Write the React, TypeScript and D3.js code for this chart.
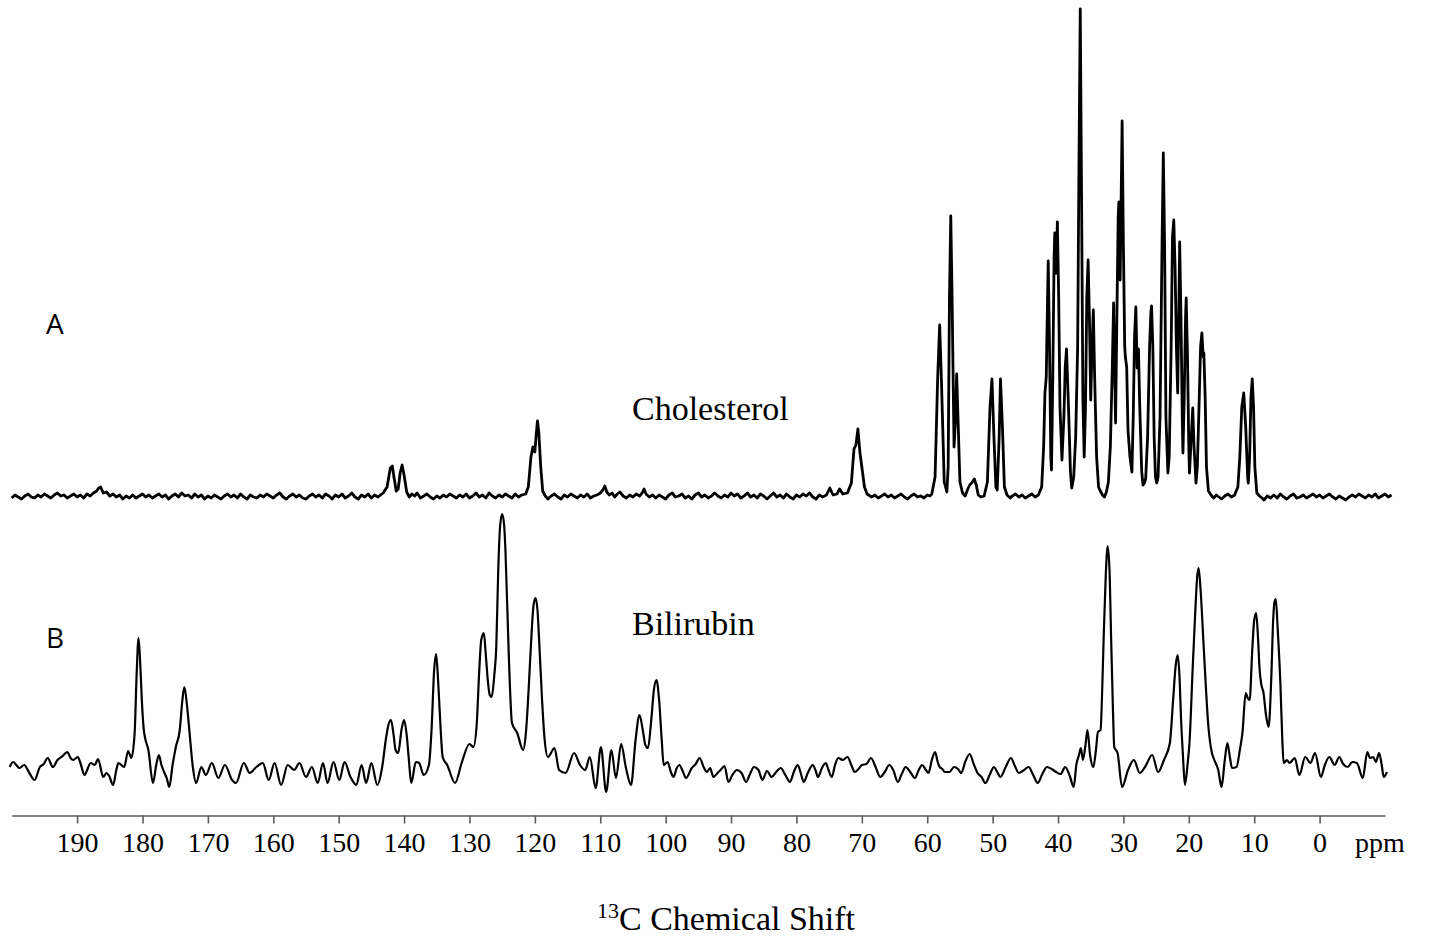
import React, { useEffect, useRef } from 'react';
import * as d3 from 'd3';

// [ppm, intensity a.u.], ordered from high ppm to low ppm
const cholesterol: [number, number][] = [
  [200, -1], [199.5, 2], [199, 0], [198.5, -2], [198, 1], [197.5, 3], [197, 0], [196.5, -1], [196, 2], [195.5, 0],
  [195, 3], [194.5, 1], [194, -1], [193.5, 2], [193, 4], [192.5, 1], [192, 2], [191.5, -1], [191, 1], [190.5, 3],
  [190, 0], [189.5, 2], [189, -1], [188.5, 3], [188, 1], [187.5, 4], [187, 6], [186.7, 9], [186.4, 10], [186, 4],
  [185.5, 5], [185, 1], [184.5, 3], [184, 0], [183.5, 2], [183, -2], [182.5, 1], [182, -1], [181.5, 2], [181, -1],
  [180.5, 1], [180, 3], [179.5, 0], [179, 2], [178.5, -1], [178, 1], [177.5, 3], [177, 0], [176.5, 2], [176, -2],
  [175.5, 1], [175, 3], [174.5, 0], [174, 4], [173.5, 1], [173, 2], [172.5, -1], [172, 3], [171.5, 0], [171, 2],
  [170.5, -2], [170, 1], [169.5, -1], [169, 2], [168.5, 0], [168, -2], [167.5, 1], [167, 3], [166.5, 0], [166, 2],
  [165.5, -1], [165, 3], [164.5, 0], [164, -2], [163.5, 2], [163, 0], [162.5, -1], [162, 2], [161.5, 0], [161, 3],
  [160.5, 1], [160, -1], [159.5, 2], [159, 4], [158.5, 0], [158, -2], [157.5, 1], [157, 3], [156.5, 0], [156, 2],
  [155.5, -1], [155, -2], [154.5, 1], [154, 3], [153.5, 0], [153, 2], [152.5, -1], [152, 3], [151.5, 1], [151, -2],
  [150.5, 2], [150, 0], [149.5, 3], [149, -1], [148.5, 1], [148, 4], [147.5, 0], [147, -2], [146.5, 2], [146, 0],
  [145.5, 3], [145, -1], [144.5, 2], [144, 0], [143.6, 2], [143.2, 4], [142.6, 10], [142.1, 29], [141.8, 31], [141.5, 18],
  [141.2, 6], [140.9, 8], [140.6, 24], [140.3, 32], [140.0, 22], [139.6, 5], [139.2, 0], [138.8, 3], [138.4, 1], [138, 4],
  [137.5, -1], [137, 1], [136.5, 3], [136, 0], [135.5, -2], [135, 1], [134.5, -1], [134, 2], [133.5, 0], [133, 3],
  [132.5, 1], [132, -1], [131.5, 2], [131, 0], [130.5, 3], [130, -1], [129.5, 1], [129, 4], [128.5, 0], [128, 2],
  [127.5, -1], [127, 4], [126.5, 1], [126, -1], [125.5, 2], [125, 0], [124.5, 3], [124, 1], [123.5, -1], [123, 3],
  [122.5, 0], [122, 2], [121.4, 3], [121.0, 10], [120.6, 40], [120.3, 50], [120.0, 45], [119.8, 62], [119.6, 76], [119.4, 65],
  [119.1, 30], [118.8, 6], [118.4, 1], [118, -2], [117.5, 1], [117, 3], [116.5, 0], [116, -2], [115.5, 2], [115, 0],
  [114.5, 3], [114, 1], [113.5, -1], [113, 2], [112.5, 0], [112, 3], [111.5, -1], [111, 1], [110.5, 2], [110, 4],
  [109.6, 7], [109.3, 11], [109.0, 5], [108.6, 2], [108.2, 4], [107.8, 0], [107.4, 3], [107, 5], [106.5, 1], [106, -1],
  [105.5, 2], [105, 0], [104.5, 3], [104, 1], [103.6, 4], [103.3, 8], [103.0, 3], [102.5, 0], [102, 2], [101.5, -1],
  [101, 2], [100.5, 0], [100, -2], [99.5, 2], [99, 4], [98.5, 0], [98, 1], [97.5, 3], [97, -1], [96.5, 1],
  [96, -2], [95.5, 2], [95, 4], [94.5, 0], [94, 2], [93.5, -1], [93, 1], [92.5, 4], [92, 1], [91.5, -1],
  [91, 2], [90.5, 0], [90, 4], [89.5, 1], [89, 3], [88.5, -1], [88, 1], [87.5, 4], [87, 0], [86.5, 2],
  [86, -1], [85.5, 3], [85, 1], [84.5, -2], [84, 1], [83.5, 4], [83, 0], [82.5, 2], [82, -1], [81.5, 3],
  [81, 0], [80.5, -2], [80, 2], [79.5, 0], [79, 3], [78.5, 1], [78, 4], [77.5, 0], [77, -2], [76.5, 2],
  [76, 0], [75.4, 2], [74.9, 9], [74.4, 2], [73.8, 3], [73.4, 8], [72.9, 3], [72.2, 4], [71.6, 14], [71.2, 48],
  [70.9, 52], [70.6, 68], [70.3, 45], [70.0, 30], [69.6, 10], [69.2, 3], [68.5, 0], [68, 2], [67.5, -1], [67, 1],
  [66.5, 3], [66, 0], [65.5, 2], [65, -1], [64.5, 1], [64, 3], [63.5, 0], [63, -2], [62.5, 1], [62, 3],
  [61.5, 0], [61, 1], [60.5, -1], [60, 2], [59.6, 1], [59.3, 3], [58.8, 20], [58.4, 120], [58.1, 172], [57.8, 110],
  [57.4, 15], [57.0, 5], [56.8, 30], [56.6, 200], [56.4, 281], [56.2, 200], [55.9, 50], [55.7, 75], [55.5, 123], [55.3, 80],
  [55.0, 15], [54.6, 4], [54.2, 1], [53.8, 8], [53.5, 12], [53.2, 14], [52.8, 18], [52.5, 12], [52.2, 2], [51.8, 0],
  [51.3, 1], [50.8, 15], [50.4, 90], [50.1, 118], [49.8, 60], [49.5, 10], [49.3, 7], [49.0, 60], [48.8, 118], [48.5, 70],
  [48.2, 10], [47.8, 2], [47.3, -1], [47, 1], [46.5, 3], [46, 0], [45.5, 2], [45, -1], [44.5, 1], [44, 3],
  [43.5, 0], [43, 2], [42.5, 10], [42.2, 50], [42.0, 104], [41.8, 120], [41.6, 200], [41.5, 236], [41.3, 150], [41.1, 40],
  [41.0, 27], [40.8, 120], [40.6, 240], [40.5, 264], [40.3, 224], [40.1, 275], [39.9, 200], [39.7, 90], [39.4, 37], [39.1, 80],
  [38.9, 130], [38.7, 148], [38.4, 90], [38.1, 25], [37.9, 9], [37.6, 20], [37.3, 60], [37.0, 150], [36.8, 330], [36.6, 488],
  [36.4, 300], [36.2, 100], [36.0, 40], [35.8, 90], [35.6, 200], [35.4, 237], [35.2, 180], [35.0, 97], [34.8, 150], [34.6, 187],
  [34.4, 120], [34.1, 40], [33.8, 10], [33.6, 7], [33.2, 2], [32.9, 0], [32.6, 5], [32.3, 15], [32.0, 50], [31.7, 130],
  [31.5, 194], [31.3, 110], [31.2, 74], [31.0, 180], [30.8, 280], [30.7, 295], [30.5, 217], [30.2, 376], [30.0, 250], [29.8, 150],
  [29.7, 140], [29.5, 130], [29.3, 67], [29.0, 40], [28.7, 25], [28.5, 80], [28.3, 160], [28.1, 190], [27.9, 129], [27.7, 148],
  [27.5, 90], [27.2, 25], [27.0, 12], [26.8, 14], [26.6, 18], [26.3, 60], [26.0, 150], [25.8, 185], [25.7, 191], [25.5, 150],
  [25.3, 60], [25.1, 20], [24.9, 14], [24.7, 20], [24.4, 80], [24.1, 250], [23.9, 344], [23.7, 250], [23.5, 80], [23.2, 24],
  [23.0, 40], [22.7, 150], [22.5, 260], [22.3, 277], [22.1, 230], [21.9, 150], [21.7, 104], [21.5, 200], [21.4, 255], [21.2, 180],
  [21.0, 80], [20.9, 44], [20.7, 100], [20.5, 180], [20.4, 199], [20.2, 140], [20.0, 50], [19.9, 24], [19.7, 50], [19.4, 89],
  [19.2, 50], [18.9, 14], [18.7, 30], [18.4, 100], [18.2, 150], [18.0, 164], [17.8, 140], [17.7, 144], [17.5, 100], [17.3, 30],
  [17.0, 6], [16.6, 2], [16.2, -1], [15.8, 2], [15.4, 0], [15, -2], [14.5, 1], [14, 3], [13.5, 0], [13.0, 2],
  [12.5, 10], [12.2, 40], [11.9, 90], [11.6, 104], [11.3, 70], [11.0, 20], [10.9, 14], [10.7, 40], [10.5, 100], [10.3, 118],
  [10.1, 90], [9.9, 30], [9.6, 4], [9.2, 1], [8.8, -1], [8.5, -3], [8, 1], [7.5, -1], [7, 2], [6.5, -1],
  [6, 3], [5.5, 0], [5, -2], [4.5, 1], [4, 3], [3.5, -1], [3, 0], [2.5, 2], [2, -1], [1.5, 1],
  [1, 3], [0.5, 0], [0, 2], [-0.5, -1], [-1, 1], [-1.5, 3], [-2, 0], [-2.5, -2], [-3, 1], [-3.5, -1],
  [-4, -3], [-4.5, 0], [-5, 2], [-5.5, 0], [-6, 3], [-6.5, 1], [-7, -1], [-7.5, 2], [-8, 0], [-8.5, 3],
  [-9, -1], [-9.5, 1], [-10, 3], [-10.5, 0], [-11, 2],
];

const bilirubin: [number, number][] = [
  [200.3, 3], [199.8, 8], [199.3, 5], [198.8, 2], [198.1, 5], [197.3, -3], [196.5, -10], [195.7, 3], [195.1, 6], [194.5, 12],
  [193.7, 3], [193.0, 10], [192.2, 14], [191.5, 18], [191.0, 12], [190.6, 10], [189.9, 13], [189.4, 5], [188.9, -5], [187.9, 7],
  [187.3, 5], [186.8, 11], [186.0, -7], [185.5, -3], [185.1, -6], [184.5, -15], [184.0, 0], [183.7, 7], [182.8, 3], [182.2, 19],
  [181.7, 12], [181.2, 37], [180.9, 95], [180.6, 132], [180.3, 100], [180.1, 70], [179.8, 40], [179.6, 32], [179.1, 20], [178.4, -13],
  [177.9, 5], [177.5, 15], [177.1, 5], [176.7, -2], [176.3, -8], [175.9, -17], [175.4, 5], [174.9, 23], [174.3, 40], [173.9, 70],
  [173.6, 83], [173.2, 65], [172.8, 37], [172.3, 3], [171.8, -13], [171.0, 3], [170.3, -5], [169.4, 7], [168.4, -8], [167.4, 5],
  [166.3, -10], [165.7, -13], [164.5, 7], [163.6, -3], [162.6, 3], [161.6, 7], [160.7, -10], [159.8, 7], [158.8, -15], [157.8, 5],
  [156.8, 0], [156.0, 7], [155.0, -7], [154.1, 3], [153.2, -13], [152.4, 7], [151.7, -13], [150.8, 8], [149.9, -10], [149.1, 8],
  [148.2, -7], [147.3, -15], [146.5, 5], [145.8, -13], [145.0, 7], [144.1, -15], [143.3, 5], [142.8, 30], [142.4, 45], [142.0, 50],
  [141.6, 35], [141.3, 20], [140.9, 17], [140.4, 40], [140.0, 50], [139.6, 35], [139.3, 13], [138.9, -13], [138.2, 8], [137.7, 7],
  [137.0, -5], [136.2, 5], [135.8, 40], [135.4, 100], [135.1, 116], [134.8, 90], [134.4, 40], [134.1, 13], [133.4, 5], [132.2, -13],
  [131.2, 7], [130.0, 26], [129.4, 23], [128.9, 45], [128.5, 100], [128.2, 130], [127.8, 137], [127.5, 115], [127.2, 90], [126.9, 75],
  [126.6, 73], [126.2, 95], [125.9, 123], [125.6, 200], [125.3, 245], [125.0, 256], [124.7, 245], [124.5, 220], [124.0, 117], [123.5, 47],
  [122.7, 37], [121.8, 20], [121.4, 35], [121.1, 63], [120.8, 100], [120.5, 137], [120.2, 165], [119.9, 172], [119.6, 160], [119.4, 137],
  [118.9, 70], [118.5, 30], [118.0, 13], [117.0, 22], [116.3, 0], [115.3, -3], [114.0, 17], [113.1, 5], [112.3, 0], [111.6, 13],
  [110.7, -18], [109.9, 23], [109.1, -22], [108.3, 20], [107.6, -8], [106.8, 26], [106.1, 3], [105.3, -15], [104.6, 30], [104.0, 55],
  [103.5, 40], [103.1, 25], [102.7, 22], [102.2, 50], [101.8, 80], [101.4, 90], [101.0, 70], [100.6, 30], [100.3, 5], [99.7, 8],
  [99.2, -2], [98.8, -7], [98.3, 2], [97.9, 5], [97.4, -1], [96.9, -8], [96.0, 2], [95.4, 6], [94.8, 12], [94.2, 3],
  [93.7, -2], [93.2, 2], [92.7, -7], [92.2, -4], [91.6, 0], [91.0, 4], [90.4, -12], [89.8, -5], [89.1, 0], [88.4, -3],
  [87.7, -12], [87.1, -4], [86.5, 3], [85.8, 0], [85.2, -10], [84.5, -1], [83.8, -7], [83.1, -2], [82.4, 2], [81.7, -5],
  [81.0, -12], [80.4, -2], [79.8, 5], [79.3, -4], [78.9, -12], [78.2, -2], [77.5, 5], [77.1, 0], [76.7, -7], [76.1, 2],
  [75.5, 7], [75.1, 0], [74.6, -7], [74.1, 5], [73.6, 12], [72.9, 10], [72.2, 13], [71.6, 5], [71.1, -2], [70.5, 1],
  [70.0, 5], [69.3, 6], [68.6, 12], [67.9, 3], [67.2, -7], [66.5, -2], [65.8, 5], [65.2, 0], [64.5, -12], [63.9, -4],
  [63.3, 3], [62.6, -2], [61.9, -8], [61.3, 0], [60.8, 5], [60.2, 0], [59.8, -3], [59.3, 10], [58.8, 18], [58.4, 8],
  [58.1, 3], [57.7, 1], [57.3, -2], [56.6, -2], [55.9, 3], [55.3, 1], [54.8, -3], [54.2, 8], [53.5, 16], [52.9, 6],
  [52.3, -3], [51.7, -7], [51.1, -13], [50.4, -4], [49.8, 3], [49.3, -2], [48.8, -7], [48.0, 3], [47.2, 12], [46.6, 4],
  [46.0, -3], [45.2, 0], [44.5, 3], [43.8, -5], [43.1, -13], [42.4, -4], [41.7, 3], [41.0, 1], [40.3, -2], [39.6, -4],
  [38.9, 3], [38.2, -6], [37.6, -17], [37.2, 5], [36.8, 15], [36.5, 22], [36.2, 10], [35.8, 25], [35.5, 40], [35.1, 15],
  [34.6, 3], [34.2, 20], [33.9, 38], [33.5, 40], [33.2, 90], [33.0, 137], [32.7, 195], [32.4, 224], [32.1, 195], [31.9, 137],
  [31.6, 60], [31.4, 23], [30.9, 17], [30.2, -17], [29.3, 0], [28.4, 10], [27.5, -3], [26.7, 3], [25.6, 15], [24.7, -2],
  [23.8, 10], [22.9, 27], [22.4, 70], [22.0, 105], [21.7, 115], [21.4, 90], [21.2, 53], [20.9, 15], [20.6, -15], [20.2, 5],
  [19.9, 27], [19.4, 103], [19.0, 160], [18.7, 195], [18.5, 202], [18.2, 180], [17.7, 120], [17.0, 43], [16.5, 18], [16.1, 10],
  [15.5, 0], [15.0, -17], [14.5, 10], [14.1, 27], [13.7, 12], [13.4, 2], [12.7, 3], [12.2, 20], [11.8, 37], [11.3, 77],
  [11.0, 72], [10.7, 70], [10.3, 120], [10.0, 150], [9.7, 157], [9.4, 130], [9.2, 103], [8.9, 85], [8.6, 78], [8.2, 55],
  [7.8, 43], [7.4, 90], [7.1, 150], [6.9, 168], [6.7, 171], [6.4, 140], [6.0, 87], [5.7, 30], [5.5, 7], [5.0, 10],
  [4.6, 7], [3.8, 12], [3.1, -5], [2.2, 13], [1.4, 7], [0.7, 17], [-0.2, -7], [-0.8, 5], [-1.5, 13], [-2.3, 5],
  [-3.0, 13], [-3.6, 6], [-4.3, 3], [-5.0, 8], [-5.7, 7], [-6.6, -8], [-7.3, 18], [-7.7, 12], [-8.2, 13], [-8.6, 8],
  [-9.1, 17], [-9.5, 5], [-9.8, -7], [-10.3, -2],
];

const tickValues = [190, 180, 170, 160, 150, 140, 130, 120, 110, 100, 90, 80, 70, 60, 50, 40, 30, 20, 10, 0];

const W = 1429;
const H = 936;

const App: React.FC = () => {
  const svgRef = useRef<SVGSVGElement>(null);

  useEffect(() => {
    if (!svgRef.current) return;
    const svg = d3.select(svgRef.current);
    svg.selectAll('*').remove();

    const serif = '"Liberation Serif", "Times New Roman", serif';
    const sans = '"Open Sans", "Liberation Sans", sans-serif';

    // ppm axis runs right to left
    const x = d3.scaleLinear().domain([200, -10]).range([11.7, 1385]);
    const axisY = 815.5;

    // stacked spectra: each has its own baseline
    const yA = d3.scaleLinear().domain([0, 500]).range([497, -3]);
    const yB = d3.scaleLinear().domain([0, 500]).range([770, 270]);

    const lineA = d3.line<[number, number]>()
      .x(d => x(d[0]))
      .y(d => yA(d[1]))
      .curve(d3.curveLinear);

    const lineB = d3.line<[number, number]>()
      .x(d => x(d[0]))
      .y(d => yB(d[1]))
      .curve(d3.curveMonotoneX);

    svg.append('path')
      .attr('d', lineA(cholesterol) || '')
      .attr('fill', 'none')
      .attr('stroke', '#000')
      .attr('stroke-width', 2.8)
      .attr('stroke-linejoin', 'round');

    svg.append('path')
      .attr('d', lineB(bilirubin) || '')
      .attr('fill', 'none')
      .attr('stroke', '#000')
      .attr('stroke-width', 2.2)
      .attr('stroke-linejoin', 'round');

    // x axis
    const axis = svg.append('g')
      .attr('transform', `translate(0,${axisY})`)
      .call(d3.axisBottom(x).tickValues(tickValues).tickSize(8).tickSizeOuter(0).tickPadding(9));
    axis.select('.domain').attr('stroke', '#5a5a5a').attr('stroke-width', 1.6);
    axis.selectAll('.tick line').attr('stroke', '#5a5a5a').attr('stroke-width', 1.6);
    axis.selectAll('.tick text')
      .attr('font-family', serif)
      .attr('font-size', 28)
      .attr('fill', '#000');

    svg.append('text')
      .attr('x', 1355)
      .attr('y', 852)
      .attr('font-family', serif)
      .attr('font-size', 28)
      .text('ppm');

    // axis title with superscript
    const title = svg.append('text')
      .attr('x', 726)
      .attr('y', 930)
      .attr('text-anchor', 'middle')
      .attr('font-family', serif)
      .attr('font-size', 34);
    title.append('tspan').attr('font-size', 22).attr('dy', -12).text('13');
    title.append('tspan').attr('dy', 12).text('C Chemical Shift');

    // trace labels
    svg.append('text')
      .attr('x', 632)
      .attr('y', 420)
      .attr('font-family', serif)
      .attr('font-size', 34)
      .text('Cholesterol');

    svg.append('text')
      .attr('x', 632)
      .attr('y', 635)
      .attr('font-family', serif)
      .attr('font-size', 34)
      .text('Bilirubin');

    svg.append('text')
      .attr('x', 46)
      .attr('y', 334)
      .attr('font-family', sans)
      .attr('font-size', 28)
      .text('A');

    svg.append('text')
      .attr('x', 46)
      .attr('y', 648)
      .attr('font-family', sans)
      .attr('font-size', 28)
      .text('B');
  }, []);

  return (
    <svg
      ref={svgRef}
      width={W}
      height={H}
      style={{ position: 'absolute', left: 0, top: 0, display: 'block', background: '#fff' }}
    />
  );
};

export default App;
